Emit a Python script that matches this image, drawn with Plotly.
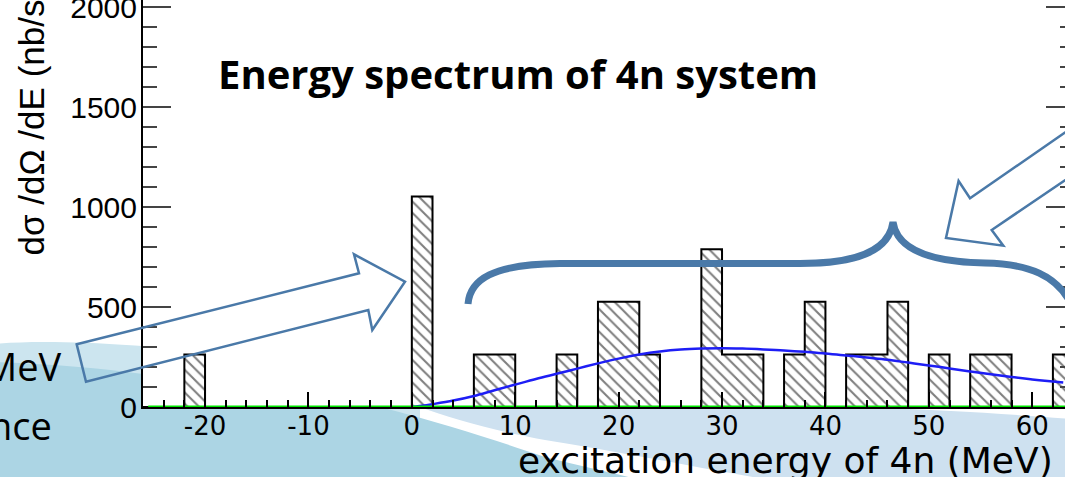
import plotly.graph_objects as go

# ---------------- data ----------------
bin_low = [-22, 0, 6, 8, 14, 18, 20, 22, 28, 30, 32, 36, 38, 42, 44, 46, 50, 54, 56, 62]
counts = [263, 1052, 263, 263, 263, 526, 526, 263, 789, 263, 263, 263, 526, 263, 263, 526, 263, 263, 263, 263]
bin_width = 2
hist_start, hist_stop = -26, 64

fit_energy = [0, 1, 2, 4, 6, 8, 10, 12, 14, 16, 18, 20, 22, 24, 26, 28, 30, 32, 34, 36,
              38, 40, 42, 44, 46, 48, 50, 52, 54, 56, 58, 60, 62, 63]
fit_value = [0, 6, 14, 32, 55, 84, 112, 140, 166, 192, 218, 242, 262, 277, 287, 292, 294, 292, 288, 283,
             276, 267, 258, 247, 236, 222, 208, 193, 178, 164, 150, 138, 127, 122]

flat_energy = [-25.5, 64]
flat_value = [0, 0]

x_tick_vals = [-20, -10, 0, 10, 20, 30, 40, 50, 60]
x_tick_text = ["-20", "-10", "0", "10", "20", "30", "40", "50", "60"]
y_tick_vals = [0, 500, 1000, 1500, 2000]
y_tick_text = ["0", "500", "1000", "1500", "2000"]

title_text = "Energy spectrum of 4n system"
x_title = "excitation energy of 4n (MeV)"
y_title = "dσ /dΩ /dE (nb/sr/MeV)"
side_texts = ["MeV", "nce"]

# ---------------- layout geometry ----------------
W, H = 1065, 477
L, R, T, B = 143, 1065, 0, 407
X_RANGE = [-26, 63.17]
Y_RANGE = [0, 2035]


def fx(p):
    return (p - L) / (R - L)


def fy(p):
    return (B - p) / (B - T)


def P(x, y):
    return f"{fx(x):.5f},{fy(y):.5f}"


# histogram outline built from the bins
full = {e: 0 for e in range(hist_start, hist_stop, bin_width)}
for lo, c in zip(bin_low, counts):
    full[lo] = c
edges = sorted(full)
outline_x = edges + [hist_stop]
outline_y = [full[e] for e in edges] + [0]
bar_centers = [lo + bin_width / 2 for lo in bin_low]

fig = go.Figure()

fig.add_trace(go.Bar(
    x=bar_centers, y=counts, width=bin_width,
    marker=dict(color="white", line=dict(width=0),
                pattern=dict(shape="\\", fgcolor="black", bgcolor="white", size=8, solidity=0.26)),
    hoverinfo="skip"))

fig.add_trace(go.Scatter(
    x=outline_x, y=outline_y, mode="lines", line=dict(color="black", width=2, shape="hv"),
    hoverinfo="skip"))

fig.add_trace(go.Scatter(
    x=fit_energy, y=fit_value, mode="lines",
    line=dict(color="rgb(30,30,245)", width=2.5, shape="spline"), hoverinfo="skip"))

fig.add_trace(go.Scatter(
    x=flat_energy, y=flat_value, mode="lines", yaxis="y2",
    line=dict(color="rgb(0,232,0)", width=3), hoverinfo="skip"))

# ---------------- background decoration ----------------
teal = "rgb(172,213,228)"
light_band = "rgb(204,229,239)"
light_blue = "rgb(206,225,240)"
arrow_col = "rgb(74,121,168)"

shapes = []
shapes.append(dict(type="path", xref="paper", yref="paper", layer="below",
                   path="M " + P(-5, 344) + " C " + P(60, 338) + " " + P(200, 345) + " " + P(420, 380)
                        + " L " + P(420, 480) + " L " + P(-5, 480) + " Z",
                   fillcolor=light_band, line=dict(width=0)))
shapes.append(dict(type="path", xref="paper", yref="paper", layer="below",
                   path="M " + P(-5, 362) + " C " + P(50, 364) + " " + P(100, 368) + " " + P(143, 374)
                        + " C " + P(250, 388) + " " + P(330, 398) + " " + P(380, 407)
                        + " C " + P(450, 425) + " " + P(500, 442) + " " + P(545, 457)
                        + " C " + P(580, 466) + " " + P(610, 472) + " " + P(640, 480)
                        + " L " + P(-5, 480) + " Z",
                   fillcolor=teal, line=dict(width=0)))
shapes.append(dict(type="path", xref="paper", yref="paper", layer="below",
                   path="M " + P(420, 407) + " L " + P(860, 407) + " C " + P(950, 410) + " " + P(1020, 415)
                        + " " + P(1070, 419) + " L " + P(1070, 480) + " L " + P(770, 480)
                        + " C " + P(700, 468) + " " + P(620, 452) + " " + P(545, 440)
                        + " C " + P(490, 430) + " " + P(450, 418) + " " + P(420, 407) + " Z",
                   fillcolor=light_blue, line=dict(width=0)))
# plot area stays white over the slide background
shapes.append(dict(type="rect", xref="paper", yref="paper", layer="below",
                   x0=0, x1=1, y0=0, y1=1, fillcolor="white", line=dict(width=0)))

# arrows and brace
shapes.append(dict(type="path", xref="paper", yref="paper", layer="above",
                   path="M " + P(76.7, 344.3) + " L " + P(359, 273.3) + " L " + P(354, 254.3)
                        + " L " + P(405, 281.7) + " L " + P(372.3, 330) + " L " + P(368.3, 310)
                        + " L " + P(86, 381.7) + " Z",
                   line=dict(color=arrow_col, width=2.5)))
shapes.append(dict(type="path", xref="paper", yref="paper", layer="above",
                   path="M " + P(1075, 125.5) + " L " + P(970, 198.3) + " L " + P(958.6, 181)
                        + " L " + P(946, 238) + " L " + P(1003.3, 245.7) + " L " + P(991.7, 230)
                        + " L " + P(1075, 173.4),
                   line=dict(color=arrow_col, width=2.5)))
shapes.append(dict(type="path", xref="paper", yref="paper", layer="above",
                   path="M " + P(468, 304) + " C " + P(470, 280) + " " + P(492, 264) + " " + P(560, 263.5)
                        + " L " + P(800, 263.5) + " C " + P(855, 263.5) + " " + P(889, 252) + " " + P(893, 222)
                        + " C " + P(897, 250) + " " + P(930, 262) + " " + P(985, 263)
                        + " C " + P(1030, 264) + " " + P(1056, 276) + " " + P(1070, 302),
                   line=dict(color=arrow_col, width=7)))

annotations = [
    dict(text=title_text, x=fx(518), y=fy(73), xref="paper", yref="paper", showarrow=False,
         xanchor="center", yanchor="middle",
         font=dict(family="Open Sans", size=40, color="black", weight="bold")),
    dict(text=side_texts[0], x=fx(64), y=fy(366), xref="paper", yref="paper", showarrow=False,
         xanchor="right", yanchor="middle", font=dict(family="Open Sans", size=38, color="black")),
    dict(text=side_texts[1], x=fx(54), y=fy(425), xref="paper", yref="paper", showarrow=False,
         xanchor="right", yanchor="middle", font=dict(family="Open Sans", size=38, color="black")),
    dict(text=y_title, x=fx(31), y=fy(258), xref="paper", yref="paper", showarrow=False,
         xanchor="center", yanchor="bottom", textangle=-90,
         font=dict(family="Liberation Sans", size=35, color="black")),
    dict(text=x_title, x=fx(785), y=fy(460), xref="paper", yref="paper", showarrow=False,
         xanchor="center", yanchor="middle",
         font=dict(family="DejaVu Sans", size=36, color="black")),
]

fig.update_layout(
    width=W, height=H,
    margin=dict(l=L, r=W - R, t=T, b=H - B, pad=0, autoexpand=False),
    paper_bgcolor="white", plot_bgcolor="white",
    showlegend=False, bargap=0, barmode="overlay",
    shapes=shapes, annotations=annotations,
    xaxis=dict(range=X_RANGE, tickmode="array", tickvals=x_tick_vals, ticktext=x_tick_text,
               ticks="inside", ticklen=15, tickwidth=1.5, tickcolor="black",
               minor=dict(dtick=2, tick0=0, ticks="inside", ticklen=7, tickwidth=1.5, tickcolor="black"),
               showline=True, linewidth=2, linecolor="black", mirror=False, automargin=False,
               showgrid=False, zeroline=False, ticklabelstandoff=-5,
               tickfont=dict(family="DejaVu Sans", size=26, color="black")),
    yaxis=dict(range=Y_RANGE, tickmode="array", tickvals=y_tick_vals, ticktext=y_tick_text,
               ticks="inside", ticklen=28, tickwidth=2, tickcolor="#444",
               minor=dict(dtick=100, ticks="inside", ticklen=14, tickwidth=2, tickcolor="#444"),
               showline=True, linewidth=2, linecolor="black", automargin=False,
               showgrid=False, zeroline=False, ticklabelstandoff=-2, ticklabeloverflow="allow",
               tickfont=dict(family="Liberation Sans", size=30, color="black")),
    yaxis2=dict(range=Y_RANGE, overlaying="y", side="right", tickmode="array", tickvals=y_tick_vals,
                showticklabels=False, ticks="inside", ticklen=19, tickwidth=2, tickcolor="#444",
                minor=dict(dtick=100, ticks="inside", ticklen=5, tickwidth=2, tickcolor="#444"),
                showline=False, showgrid=False, zeroline=False, automargin=False),
)

fig.write_html("out.html", config={"displayModeBar": False},
               post_script="document.body.style.margin='0px';")
